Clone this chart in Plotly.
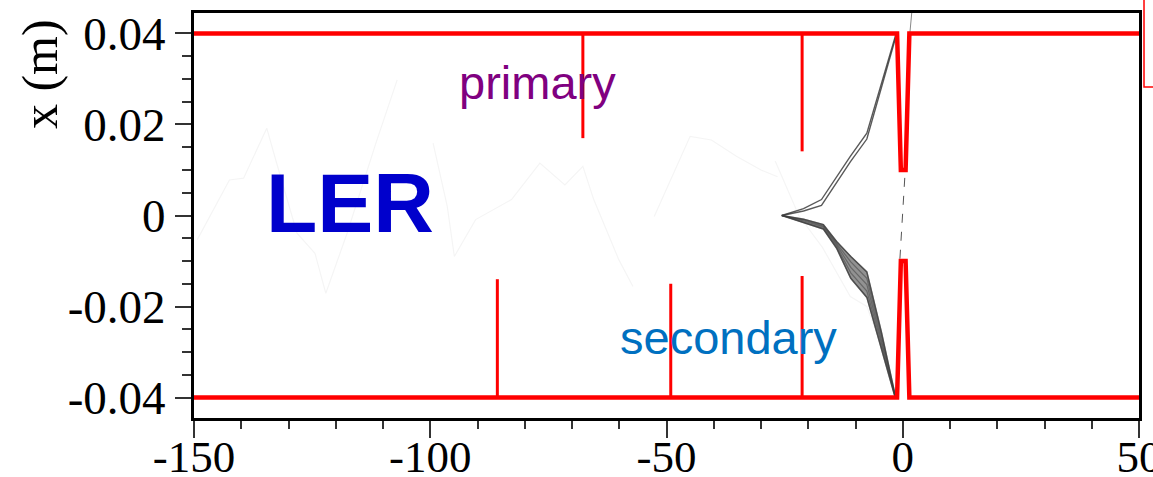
import plotly.graph_objects as go

# Beam pipe / mask aperture (s in m, x in m)
wall_s = [-150, -1.2, -0.4, 0.6, 1.4, 50]
upper_wall_x = [0.04, 0.04, 0.01, 0.01, 0.04, 0.04]
lower_wall_x = [-0.04, -0.04, -0.01, -0.01, -0.04, -0.04]

# Collimator jaws: position along the ring and tip of the jaw
upper_mask_s = [-67.7, -21.3]
upper_mask_tip = [0.017, 0.0141]
lower_mask_s = [-85.8, -49.1, -21.3]
lower_mask_tip = [-0.014, -0.015, -0.0133]

# Scattered-particle tracks upstream (faint)
faint_tracks = [
    ([-149.3, -142.5, -139.5, -134.6, -132.7, -128.2, -124.4, -122.1, -117.6, -111.5, -107.0],
     [-0.0053, 0.0078, 0.0082, 0.0192, 0.0122, -0.0039, -0.0083, -0.0171, -0.0039, 0.0159, 0.0298]),
    ([-99.4, -96.4, -94.9, -90.4, -82.8, -76.8, -71.5, -67.7, -65.4, -60.1, -57.1],
     [0.0159, 0.0020, -0.0090, -0.0009, 0.0035, 0.0115, 0.0067, 0.0108, 0.0035, -0.0097, -0.0156]),
    ([-52.6, -45.0, -40.5, -35.2, -30.0, -26.5],
     [-0.0002, 0.0174, 0.0166, 0.0130, 0.0100, 0.0085]),
    ([-27.0, -22.0, -17.0, -11.1, -7.6, -4.0],
     [0.0120, 0.0000, -0.0070, -0.0178, -0.0200, -0.0300]),
]

# Primary-particle tracks towards the IP
upper_track_s = [-25.6, -21.0, -17.2, -11.1, -7.6, -1.4]
upper_tracks = [
    [0.0, 0.0015, 0.0035, 0.0130, 0.0181, 0.0400],
    [0.0, 0.0010, 0.0022, 0.0118, 0.0168, 0.0395],
]
lower_track_s = [-25.6, -21.0, -16.8, -14.0, -11.0, -7.6, -4.5, -1.6]
lower_tracks = [
    [0.0, -0.0008, -0.0020, -0.0057, -0.0090, -0.0124, -0.0257, -0.0395],
    [0.0, -0.0010, -0.0023, -0.0060, -0.0102, -0.0138, -0.0266, -0.0397],
    [0.0, -0.0012, -0.0025, -0.0064, -0.0114, -0.0152, -0.0275, -0.0398],
    [0.0, -0.0014, -0.0028, -0.0068, -0.0126, -0.0166, -0.0283, -0.0399],
    [0.0, -0.0016, -0.0030, -0.0072, -0.0138, -0.0180, -0.0292, -0.0400],
]
# Track crossing the IP gap
ip_track_s = [-0.6, 0.5]
ip_track_x = [-0.0095, 0.0095]
ip_exit_s = [1.5, 1.9]
ip_exit_x = [0.040, 0.0445]

RED = "#ff0000"
fig = go.Figure()

for s, x in faint_tracks:
    fig.add_trace(go.Scatter(x=s, y=x, mode="lines",
                             line=dict(color="rgba(0,0,0,0.045)", width=1.2)))

# band of secondary tracks
fig.add_trace(go.Scatter(x=lower_track_s, y=lower_tracks[0], mode="lines",
                         line=dict(color="rgba(70,70,70,0.8)", width=1.5)))
fig.add_trace(go.Scatter(x=lower_track_s, y=lower_tracks[-1], mode="lines",
                         fill="tonexty", fillcolor="rgba(110,110,110,0.75)",
                         line=dict(color="rgba(70,70,70,0.8)", width=1.5)))
for tr in lower_tracks:
    fig.add_trace(go.Scatter(x=lower_track_s, y=tr, mode="lines",
                             line=dict(color="rgba(60,60,60,0.5)", width=1.2)))
for tr in upper_tracks:
    fig.add_trace(go.Scatter(x=upper_track_s, y=tr, mode="lines",
                             line=dict(color="rgba(60,60,60,0.85)", width=1.4)))
fig.add_trace(go.Scatter(x=ip_track_s, y=ip_track_x, mode="lines",
                         line=dict(color="#555555", width=1, dash="dash")))
fig.add_trace(go.Scatter(x=ip_exit_s, y=ip_exit_x, mode="lines",
                         line=dict(color="#888888", width=1)))

# masks
ms, mx = [], []
for s, tip in zip(upper_mask_s, upper_mask_tip):
    ms += [s, s, None]
    mx += [upper_wall_x[0], tip, None]
for s, tip in zip(lower_mask_s, lower_mask_tip):
    ms += [s, s, None]
    mx += [lower_wall_x[0], tip, None]
fig.add_trace(go.Scatter(x=ms, y=mx, mode="lines", line=dict(color=RED, width=3)))

# beam pipe walls
fig.add_trace(go.Scatter(x=wall_s, y=upper_wall_x, mode="lines",
                         line=dict(color=RED, width=4.5)))
fig.add_trace(go.Scatter(x=wall_s, y=lower_wall_x, mode="lines",
                         line=dict(color=RED, width=4.5)))

serif = "Liberation Serif, Times New Roman, serif"

fig.update_layout(
    width=1153, height=477,
    margin=dict(l=194, r=14, t=13, b=59),
    paper_bgcolor="white", plot_bgcolor="white",
    showlegend=False,
    xaxis=dict(range=[-150, 50], tickvals=[-150, -100, -50, 0, 50],
               ticktext=["-150", "-100", "-50", "0", "50"],
               showgrid=False, zeroline=False, automargin=False,
               ticklabeloverflow="allow", ticklabelstandoff=-20,
               showline=True, linecolor="black", linewidth=3, mirror=True,
               ticks="outside", ticklen=17, tickwidth=1.5, tickcolor="#333",
               minor=dict(dtick=10, ticks="outside", ticklen=8, tickwidth=1.5, tickcolor="#333"),
               tickfont=dict(family=serif, size=45, color="black")),
    yaxis=dict(range=[-0.0445, 0.0445], tickvals=[-0.04, -0.02, 0, 0.02, 0.04],
               ticktext=["-0.04", "-0.02", "0", "0.02", "0.04"],
               showgrid=False, zeroline=False, automargin=False,
               ticklabeloverflow="allow",
               showline=True, linecolor="black", linewidth=3, mirror=True,
               ticks="outside", ticklen=16, tickwidth=1.5, tickcolor="#333",
               minor=dict(dtick=0.005, ticks="outside", ticklen=9, tickwidth=1.5, tickcolor="#333"),
               tickfont=dict(family=serif, size=47, color="black")),
    annotations=[
        dict(text="x (m)", textangle=-90, xref="paper", yref="paper",
             x=-0.163, y=0.849, xanchor="center", yanchor="middle", showarrow=False,
             font=dict(family=serif, size=50, color="black")),
        dict(text="primary", x=-77.4, y=0.0292, showarrow=False,
             font=dict(family="Liberation Sans, Arial, sans-serif", size=47, color="#800080")),
        dict(text="secondary", x=-36.8, y=-0.0269, showarrow=False,
             font=dict(family="Liberation Sans, Arial, sans-serif", size=47, color="#0070c0")),
        dict(text="<b>LER</b>", x=-117, y=0.0028, showarrow=False,
             font=dict(family="Liberation Sans, Arial, sans-serif", size=84, color="#0000cc")),
    ],
    shapes=[
        dict(type="rect", xref="paper", yref="paper",
             x0=1.0053, x1=1.08, y0=0.817, y1=1.1,
             line=dict(color=RED, width=1.5), fillcolor="rgba(0,0,0,0)"),
    ],
)

fig.write_html("out.html")
